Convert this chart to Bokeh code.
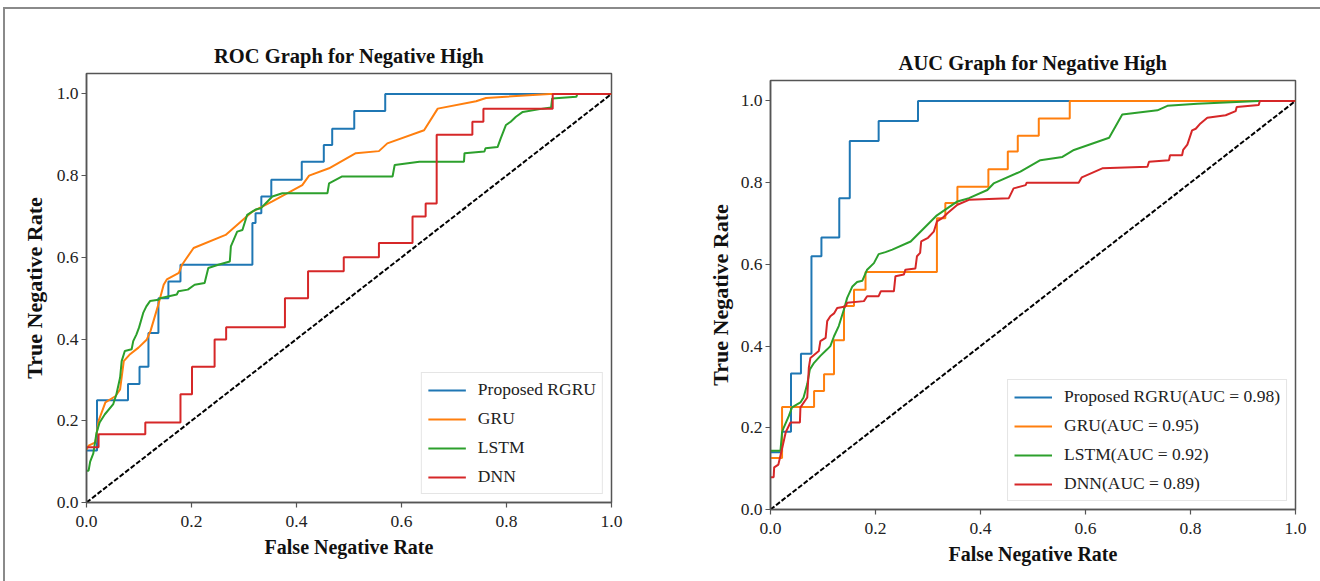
from bokeh.plotting import figure
from bokeh.models import Range1d, FixedTicker, NumeralTickFormatter, Spacer
from bokeh.layouts import row, column
from bokeh.embed import file_html
from bokeh.resources import INLINE

# ---- data -------------------------------------------------------------
model_names = ["Proposed RGRU", "GRU", "LSTM", "DNN"]
auc_scores = [0.98, 0.95, 0.92, 0.89]
series_colors = ["#1f77b4", "#ff7f0e", "#2ca02c", "#d62728"]

tick_values = [0.0, 0.2, 0.4, 0.6, 0.8, 1.0]
chance_line = [0.0, 1.0]

# ROC panel: (false negative rate, true negative rate) vertices
roc_rgru = [(0.0, 0.127), (0.02, 0.127), (0.02, 0.25), (0.079, 0.25), (0.079, 0.29),
            (0.101, 0.29), (0.101, 0.332), (0.118, 0.332), (0.118, 0.415), (0.137, 0.415),
            (0.137, 0.5), (0.156, 0.5), (0.156, 0.541), (0.179, 0.541), (0.179, 0.582),
            (0.316, 0.582), (0.316, 0.684), (0.322, 0.684), (0.322, 0.708), (0.333, 0.708),
            (0.333, 0.749), (0.352, 0.749), (0.352, 0.79), (0.41, 0.79), (0.41, 0.834),
            (0.452, 0.834), (0.452, 0.875), (0.468, 0.875), (0.468, 0.915), (0.51, 0.915),
            (0.51, 0.958), (0.569, 0.958), (0.569, 1.0), (1.0, 1.0)]

roc_gru = [(0.0, 0.13), (0.004, 0.139), (0.017, 0.147), (0.023, 0.2), (0.036, 0.245),
           (0.055, 0.26), (0.064, 0.277), (0.071, 0.346), (0.083, 0.363), (0.099, 0.379),
           (0.115, 0.399), (0.122, 0.42), (0.137, 0.485), (0.147, 0.533), (0.153, 0.546),
           (0.176, 0.562), (0.182, 0.582), (0.204, 0.623), (0.265, 0.655), (0.316, 0.712),
           (0.354, 0.737), (0.411, 0.777), (0.424, 0.80), (0.462, 0.818), (0.513, 0.855),
           (0.557, 0.86), (0.573, 0.879), (0.643, 0.911), (0.669, 0.964), (0.742, 0.982),
           (0.761, 0.99), (0.882, 1.0), (1.0, 1.0)]

roc_lstm = [(0.0, 0.078), (0.004, 0.078), (0.007, 0.100), (0.013, 0.120), (0.019, 0.170),
            (0.025, 0.196), (0.035, 0.216), (0.051, 0.241), (0.057, 0.265), (0.064, 0.306),
            (0.067, 0.346), (0.073, 0.371), (0.086, 0.375), (0.089, 0.395), (0.095, 0.411),
            (0.100, 0.428), (0.108, 0.464), (0.114, 0.480), (0.121, 0.493), (0.137, 0.496),
            (0.140, 0.500), (0.172, 0.509), (0.175, 0.517), (0.193, 0.521), (0.206, 0.533),
            (0.225, 0.537), (0.232, 0.574), (0.251, 0.582), (0.273, 0.590), (0.275, 0.627),
            (0.287, 0.663), (0.297, 0.667), (0.306, 0.704), (0.322, 0.717), (0.332, 0.720),
            (0.341, 0.732), (0.354, 0.749), (0.373, 0.757), (0.459, 0.757), (0.462, 0.781),
            (0.487, 0.798), (0.583, 0.798), (0.587, 0.826), (0.634, 0.834), (0.719, 0.834),
            (0.720, 0.855), (0.758, 0.859), (0.760, 0.867), (0.783, 0.870), (0.789, 0.891),
            (0.799, 0.924), (0.808, 0.932), (0.818, 0.944), (0.831, 0.956), (0.869, 0.964),
            (0.885, 0.967), (0.887, 0.989), (0.933, 0.993), (0.935, 1.0), (1.0, 1.0)]

roc_dnn = [(0.0, 0.135), (0.023, 0.135), (0.023, 0.167), (0.112, 0.167), (0.112, 0.196),
           (0.179, 0.196), (0.179, 0.265), (0.201, 0.265), (0.201, 0.332), (0.244, 0.332),
           (0.244, 0.399), (0.266, 0.399), (0.266, 0.429), (0.378, 0.429), (0.378, 0.5),
           (0.422, 0.5), (0.422, 0.566), (0.49, 0.566), (0.49, 0.6), (0.557, 0.6),
           (0.557, 0.635), (0.621, 0.635), (0.621, 0.7), (0.646, 0.7), (0.646, 0.732),
           (0.667, 0.732), (0.667, 0.9), (0.735, 0.9), (0.735, 0.932), (0.756, 0.932),
           (0.756, 0.964), (0.888, 0.964), (0.888, 1.0), (1.0, 1.0)]

# AUC panel: (false negative rate, true negative rate) vertices
auc_rgru = [(0.0, 0.14), (0.022, 0.14), (0.022, 0.19), (0.039, 0.19), (0.039, 0.333),
            (0.058, 0.333), (0.058, 0.381), (0.078, 0.381), (0.078, 0.62), (0.097, 0.62),
            (0.097, 0.666), (0.131, 0.666), (0.131, 0.762), (0.151, 0.762), (0.151, 0.902),
            (0.206, 0.902), (0.206, 0.951), (0.281, 0.951), (0.281, 1.0), (1.0, 1.0)]

auc_gru = [(0.0, 0.126), (0.022, 0.126), (0.022, 0.251), (0.083, 0.251), (0.083, 0.29),
           (0.102, 0.29), (0.102, 0.331), (0.121, 0.331), (0.121, 0.414), (0.14, 0.414),
           (0.14, 0.498), (0.159, 0.498), (0.159, 0.538), (0.181, 0.538), (0.181, 0.581),
           (0.317, 0.581), (0.317, 0.713), (0.333, 0.713), (0.333, 0.75), (0.356, 0.75),
           (0.356, 0.79), (0.415, 0.79), (0.415, 0.833), (0.452, 0.833), (0.452, 0.876),
           (0.471, 0.876), (0.471, 0.915), (0.511, 0.915), (0.511, 0.957), (0.57, 0.957),
           (0.57, 1.0), (1.0, 1.0)]

auc_lstm = [(0.0, 0.144), (0.006, 0.144), (0.019, 0.144), (0.022, 0.189), (0.025, 0.2),
            (0.035, 0.229), (0.041, 0.25), (0.057, 0.262), (0.063, 0.274), (0.07, 0.307),
            (0.075, 0.343), (0.083, 0.359), (0.095, 0.376), (0.108, 0.392), (0.114, 0.4),
            (0.121, 0.424), (0.13, 0.449), (0.14, 0.49), (0.146, 0.518), (0.156, 0.546),
            (0.165, 0.557), (0.175, 0.56), (0.184, 0.587), (0.197, 0.603), (0.206, 0.625),
            (0.219, 0.63), (0.232, 0.636), (0.267, 0.656), (0.317, 0.72), (0.356, 0.754),
            (0.378, 0.762), (0.413, 0.782), (0.425, 0.798), (0.476, 0.827), (0.514, 0.855),
            (0.556, 0.863), (0.578, 0.88), (0.645, 0.91), (0.67, 0.967), (0.737, 0.977),
            (0.756, 0.988), (0.813, 0.993), (0.93, 1.0), (1.0, 1.0)]

auc_dnn = [(0.0, 0.079), (0.006, 0.079), (0.007, 0.103), (0.015, 0.11), (0.019, 0.132),
           (0.024, 0.16), (0.029, 0.189), (0.038, 0.213), (0.056, 0.213), (0.057, 0.25),
           (0.07, 0.274), (0.073, 0.347), (0.076, 0.371), (0.092, 0.388), (0.095, 0.412),
           (0.105, 0.42), (0.108, 0.461), (0.114, 0.473), (0.121, 0.48), (0.127, 0.493),
           (0.143, 0.497), (0.146, 0.506), (0.178, 0.51), (0.184, 0.522), (0.206, 0.522),
           (0.21, 0.534), (0.235, 0.534), (0.238, 0.571), (0.254, 0.575), (0.257, 0.587),
           (0.276, 0.59), (0.279, 0.62), (0.285, 0.628), (0.287, 0.656), (0.3, 0.665),
           (0.311, 0.68), (0.317, 0.705), (0.327, 0.713), (0.337, 0.725), (0.356, 0.746),
           (0.378, 0.758), (0.454, 0.762), (0.463, 0.786), (0.486, 0.794), (0.488, 0.8),
           (0.587, 0.8), (0.593, 0.813), (0.632, 0.835), (0.718, 0.839), (0.721, 0.851),
           (0.759, 0.855), (0.761, 0.867), (0.784, 0.867), (0.786, 0.88), (0.794, 0.893),
           (0.803, 0.928), (0.81, 0.932), (0.819, 0.945), (0.832, 0.959), (0.867, 0.965),
           (0.886, 0.975), (0.888, 0.985), (0.93, 0.99), (0.932, 1.0), (1.0, 1.0)]

# ---- styling ------------------------------------------------------------
SERIF = "Liberation Serif"
SPINE = "#555555"


def make_panel(title, curves, labels, borders, ylabel_standoff):
    left, top, right, bottom = borders
    p = figure(frame_width=525, frame_height=429,
               x_range=Range1d(0, 1), y_range=Range1d(0, 1.05),
               min_border_left=left, min_border_top=top,
               min_border_right=right, min_border_bottom=bottom,
               output_backend="svg", toolbar_location=None,
               background_fill_color="white", border_fill_color="white")

    p.title.text = title
    p.title.align = "center"
    p.title.standoff = 13
    p.title.text_font = SERIF
    p.title.text_font_style = "bold"
    p.title.text_font_size = "20.5px"
    p.title.text_color = "#111111"

    p.grid.visible = False
    p.outline_line_color = SPINE
    p.outline_line_width = 1.5

    for ax in (p.xaxis[0], p.yaxis[0]):
        ax.ticker = FixedTicker(ticks=tick_values)
        ax.formatter = NumeralTickFormatter(format="0.0")
        ax.axis_line_color = SPINE
        ax.axis_line_width = 1.5
        ax.major_tick_line_color = SPINE
        ax.major_tick_line_width = 1.2
        ax.major_tick_out = 5
        ax.major_tick_in = 0
        ax.minor_tick_line_color = None
        ax.major_label_text_font = SERIF
        ax.major_label_text_font_size = "17.5px"
        ax.major_label_text_color = "#222222"
        ax.axis_label_text_font = SERIF
        ax.axis_label_text_font_style = "bold"
        ax.axis_label_text_color = "#111111"

    p.xaxis.axis_label = "False Negative Rate"
    p.xaxis.axis_label_text_font_size = "20px"
    p.xaxis.major_label_standoff = 8
    p.xaxis.axis_label_standoff = 6

    p.yaxis.axis_label = "True Negative Rate"
    p.yaxis.axis_label_text_font_size = "22px"
    p.yaxis.major_label_standoff = 3
    p.yaxis.axis_label_standoff = ylabel_standoff

    for pts, label, color in zip(curves, labels, series_colors):
        xs = [pt[0] for pt in pts]
        ys = [pt[1] for pt in pts]
        p.line(xs, ys, line_color=color, line_width=2, legend_label=label)

    p.line(chance_line, chance_line, line_color="black", line_width=2,
           line_dash="5 2")

    lg = p.legend[0]
    lg.location = "bottom_right"
    lg.margin = 8
    lg.padding = 6
    lg.spacing = 8
    lg.label_height = 20
    lg.glyph_height = 20
    lg.glyph_width = 38
    lg.label_standoff = 12
    lg.label_text_font = SERIF
    lg.label_text_font_size = "17.5px"
    lg.label_text_color = "#222222"
    lg.border_line_color = "#cccccc"
    lg.border_line_width = 1
    lg.background_fill_alpha = 0.9
    return p


roc_labels = model_names
auc_labels = [f"{n}(AUC = {a:.2f})" for n, a in zip(model_names, auc_scores)]

p_roc = make_panel("ROC Graph for Negative High",
                   [roc_rgru, roc_gru, roc_lstm, roc_dnn], roc_labels,
                   (81, 64, 49, 79), 7)
p_auc = make_panel("AUC Graph for Negative High",
                   [auc_rgru, auc_gru, auc_lstm, auc_dnn], auc_labels,
                   (110, 64, 25, 72), 5)

layout = row(column(p_roc),
             column(Spacer(width=660, height=7), p_auc),
             styles={"border-top": "2px solid #8a8a8a",
                     "border-left": "2px solid #8a8a8a",
                     "margin-top": "7px", "margin-left": "3px"})

open("out.html", "w").write(file_html(layout, INLINE))
